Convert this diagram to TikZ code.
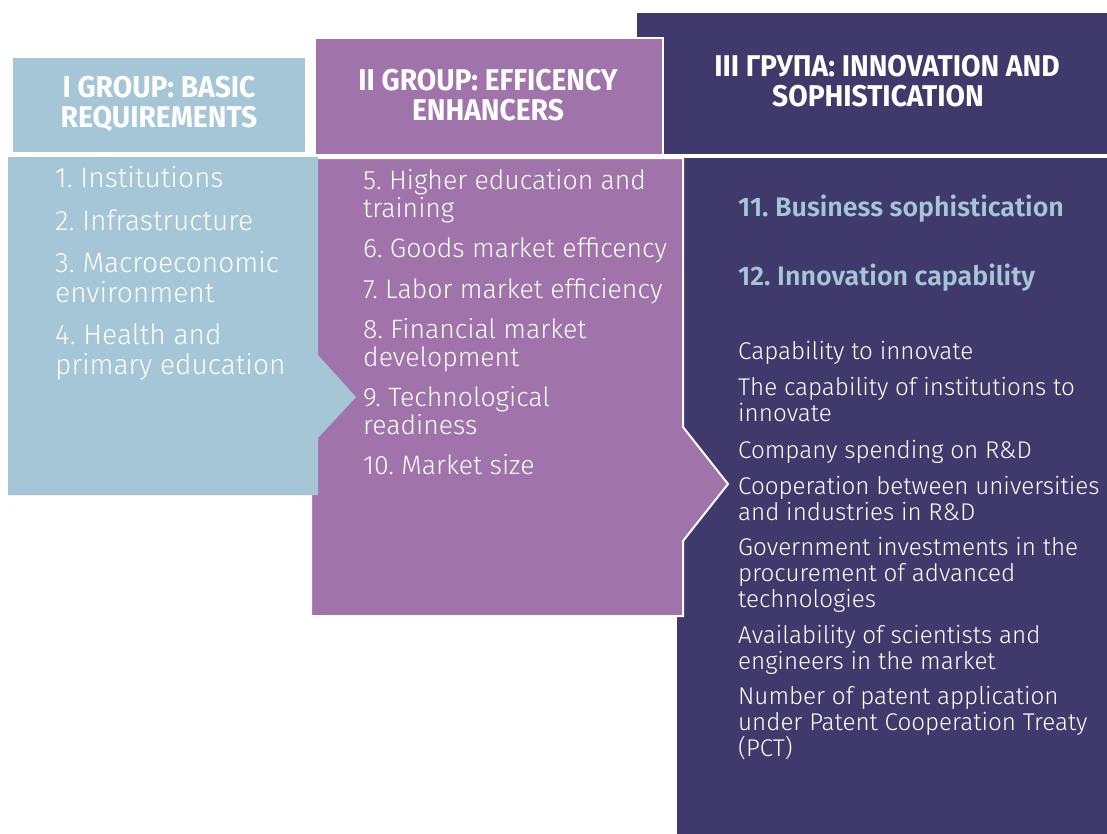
\documentclass[tikz,border=0pt]{standalone}
\usepackage{fontspec}
\setmainfont{Fira Sans Light}
\newfontfamily\headfont{Fira Sans Bold}[FakeStretch=0.94]
\newfontfamily\semifont{Fira Sans SemiBold}
\frenchspacing
\definecolor{basicblue}{RGB}{164,198,214}
\definecolor{effpurple}{RGB}{160,116,170}
\definecolor{innodark}{RGB}{63,58,107}
% multi-line nodes are placed by the baseline of their last line
\tikzset{
  panel/.style={draw=white, line width=2pt, line join=miter},
  headtext/.style={text=white, align=center, inner sep=0pt, anchor=base,
    font=\headfont\fontsize{30}{30}\selectfont},
  bluetext/.style={text=white, align=left, inner sep=0pt, anchor=base west,
    font=\fontsize{28.1}{30}\selectfont},
  purpletext/.style={text=white, align=left, inner sep=0pt, anchor=base west,
    font=\fontsize{26.6}{28}\selectfont},
  darktext/.style={text=white, align=left, inner sep=0pt, anchor=base west,
    font=\fontsize{24.2}{25.7}\selectfont},
  pillar/.style={text=basicblue, align=left, inner sep=0pt, anchor=base west,
    font=\semifont\fontsize{26.8}{30}\selectfont},
}
\begin{document}
\begin{tikzpicture}[x=1pt, y=-1pt]
\useasboundingbox (0,0) rectangle (1107,833);
% third group: innovation and sophistication
\fill[innodark, panel] (636,12) rectangle (1109,155);
\fill[innodark, panel] (676,157) rectangle (1109,835);
% second group: efficiency enhancers
\fill[effpurple, panel] (315,38) rectangle (663,155);
\fill[effpurple, panel] (311,158) -- (683,158) -- (683,427) -- (728,484)
  -- (683,541) -- (683,616) -- (311,616) -- cycle;
% first group: basic requirements
\fill[basicblue, draw=white, line width=1pt] (12,57) rectangle (305,152);
\fill[basicblue] (8,157) -- (318,157) -- (318,355) -- (356,397)
  -- (318,438) -- (318,495) -- (8,495) -- cycle;

% headings
\node[headtext] (h1) at (159,127) {I GROUP: BASIC\\REQUIREMENTS};
\node[headtext] (h2) at (488,120) {II GROUP: EFFICENCY\\ENHANCERS};
\node[headtext] (h3) at (887,106) {III ГРУПА: INNOVATION AND\\SOPHISTICATION\hspace*{18pt}};

% pillars 1-4
\node[bluetext] (p1) at (55,187) {1. Institutions};
\node[bluetext] (p2) at (55,230) {2. Infrastructure};
\node[bluetext] (p3) at (55,302) {3. Macroeconomic\\environment};
\node[bluetext] (p4) at (55,374) {4. Health and\\primary education};

% pillars 5-10
\node[purpletext] (p5) at (363,217) {5. Higher education and\\training};
\node[purpletext] (p6) at (363,257) {6. Goods market efficency};
\node[purpletext] (p7) at (363,298) {7. Labor market efficiency};
\node[purpletext] (p8) at (363,366) {8. Financial market\\development};
\node[purpletext] (p9) at (363,434) {9. Technological\\readiness};
\node[purpletext] (p10) at (363,474) {10. Market size};

% pillars 11-12
\node[pillar] (p11) at (738,216) {11. Business sophistication};
\node[pillar] (p12) at (738,285) {12. Innovation capability};

% innovation indicators
\node[darktext] (i1) at (738,359) {Capability to innovate};
\node[darktext] (i2) at (738,421) {The capability of institutions to\\innovate};
\node[darktext] (i3) at (738,458) {Company spending on R\&D};
\node[darktext] (i4) at (738,520) {Cooperation between universities\\and industries in R\&D};
\node[darktext] (i5) at (738,607) {Government investments in the\\procurement of advanced\\technologies};
\node[darktext] (i6) at (738,669) {Availability of scientists and\\engineers in the market};
\node[darktext] (i7) at (738,756) {Number of patent application\\under Patent Cooperation Treaty\\(PCT)};
\end{tikzpicture}
\end{document}
